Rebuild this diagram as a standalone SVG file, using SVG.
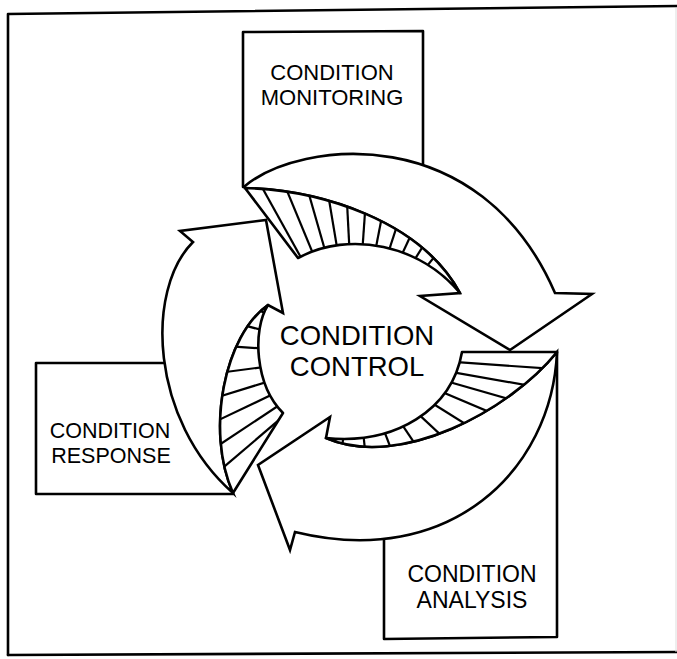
<svg xmlns="http://www.w3.org/2000/svg" width="677" height="659" viewBox="0 0 677 659">
<style>
.ln{fill:none;stroke:#000;stroke-width:2.6;stroke-linejoin:round;stroke-linecap:round}
.face{fill:#fff;stroke:#000;stroke-width:2.6;stroke-linejoin:miter;stroke-miterlimit:10}
.hr{fill:#fff;stroke:#000;stroke-width:2.6;stroke-linejoin:round}
.hatch{stroke:#000;stroke-width:2.2;fill:none}
.t{font-family:"Liberation Sans",Arial,Helvetica,sans-serif;fill:#000;text-anchor:middle}
</style>
<defs>
<clipPath id="c1"><path d="M245,188 C320,190 420,220 460,293 C420,245 350,230 298,258 Z"/></clipPath>
<clipPath id="c2"><path d="M462,352 L557,352 C510,410 400,470 326,438 C395,445 452,410 462,352 Z"/></clipPath>
<clipPath id="c3"><path d="M268,305 C252,330 255,385 283,413 L233,493 C205,430 225,335 268,305 Z"/></clipPath>
</defs>
<rect x="0" y="0" width="677" height="659" fill="#fff"/>
<g id="frame">
<path class="ln" d="M8,655 V14 L677,6"/>
<path class="ln" d="M8,655 L677,652"/>
<path d="M676,8 V652" stroke="#ddd" stroke-width="1" fill="none"/>
</g>
<g id="monitoring">
<path class="ln" d="M243,187 V32 L423,31 V175"/>
<text class="t" x="332" y="80" font-size="22">CONDITION</text>
<text class="t" x="332" y="105" font-size="22">MONITORING</text>
</g>
<g id="response">
<path class="ln" d="M170,363 H36 V494 H233"/>
<text class="t" x="110" y="438" font-size="21.5">CONDITION</text>
<text class="t" x="111" y="463" font-size="21.5">RESPONSE</text>
</g>
<g id="analysis">
<path class="ln" d="M384,535 V639 L557,637 V352"/>
<text class="t" x="472" y="582" font-size="23">CONDITION</text>
<text class="t" x="472" y="608" font-size="23">ANALYSIS</text>
</g>
<g id="control">
<text class="t" x="357" y="345" font-size="27.5">CONDITION</text>
<text class="t" x="357" y="376" font-size="27.5">CONTROL</text>
</g>
<g id="connectors">
<path id="arrow-monitoring-analysis" class="face" d="M245,186 C300,140 480,120 555,293 L592,294 L510,350 L420,296 L460,293 C420,220 320,190 245,188 Z"/>
<path id="arrow-analysis-response" class="face" d="M557,352 C552,470 450,570 295,532 L290,550 L258,465 L330,417 L326,438 C400,470 510,410 557,352 Z"/>
<path id="arrow-response-monitoring" class="face" d="M233,493 C150,420 145,290 193,242 L180,231 L266,220 L283,313 L268,305 C225,335 205,430 233,493 Z"/>
<path class="hr" d="M245,188 C320,190 420,220 460,293 C420,245 350,230 298,258 Z"/>
<g clip-path="url(#c1)" class="hatch">
<line x1="316.2" y1="285" x2="248.3" y2="162.6"/>
<line x1="324.4" y1="281.1" x2="270.8" y2="151.7"/>
<line x1="333" y1="278.1" x2="294.4" y2="143.5"/>
<line x1="341.8" y1="276.1" x2="318.7" y2="138"/>
<line x1="350.8" y1="275.1" x2="343.5" y2="135.3"/>
<line x1="360.6" y1="275.2" x2="370.4" y2="135.5"/>
<line x1="370.3" y1="276.5" x2="397" y2="139"/>
<line x1="379.7" y1="278.9" x2="423" y2="145.8"/>
<line x1="388.8" y1="282.5" x2="448" y2="155.6"/>
<line x1="397.4" y1="287.2" x2="471.6" y2="168.4"/>
<line x1="405.3" y1="292.8" x2="493.4" y2="184"/>
</g>
<path class="hr" d="M462,352 L557,352 C510,410 400,470 326,438 C395,445 452,410 462,352 Z"/>
<g clip-path="url(#c2)" class="hatch">
<line x1="414.9" y1="359.2" x2="594.4" y2="371.8"/>
<line x1="414.1" y1="365.4" x2="591.4" y2="396.7"/>
<line x1="412.7" y1="371.5" x2="585.7" y2="421.1"/>
<line x1="410.2" y1="378.4" x2="575.9" y2="448.8"/>
<line x1="405.9" y1="386.8" x2="558.5" y2="482.2"/>
<line x1="398.9" y1="395.9" x2="530.5" y2="518.7"/>
<line x1="388.6" y1="404.7" x2="489.2" y2="554"/>
<line x1="376.5" y1="411" x2="441" y2="579.1"/>
<line x1="361.3" y1="414.7" x2="380.1" y2="593.7"/>
<line x1="346.6" y1="414.4" x2="321.6" y2="592.7"/>
</g>
<path class="hr" d="M268,305 C252,330 255,385 283,413 L233,493 C205,430 225,335 268,305 Z"/>
<g clip-path="url(#c3)" class="hatch">
<line x1="309.7" y1="333.9" x2="173.7" y2="270.5"/>
<line x1="306.7" y1="342.1" x2="161.8" y2="303.2"/>
<line x1="305.1" y1="351.5" x2="155.5" y2="341"/>
<line x1="305.4" y1="361.5" x2="156.7" y2="381.1"/>
<line x1="307.2" y1="369.6" x2="163.7" y2="413.5"/>
<line x1="309.9" y1="376.5" x2="174.5" y2="441.1"/>
<line x1="313.3" y1="382.6" x2="188.2" y2="465.4"/>
<line x1="317" y1="387.5" x2="202.9" y2="484.9"/>
</g>
</g>
</svg>
